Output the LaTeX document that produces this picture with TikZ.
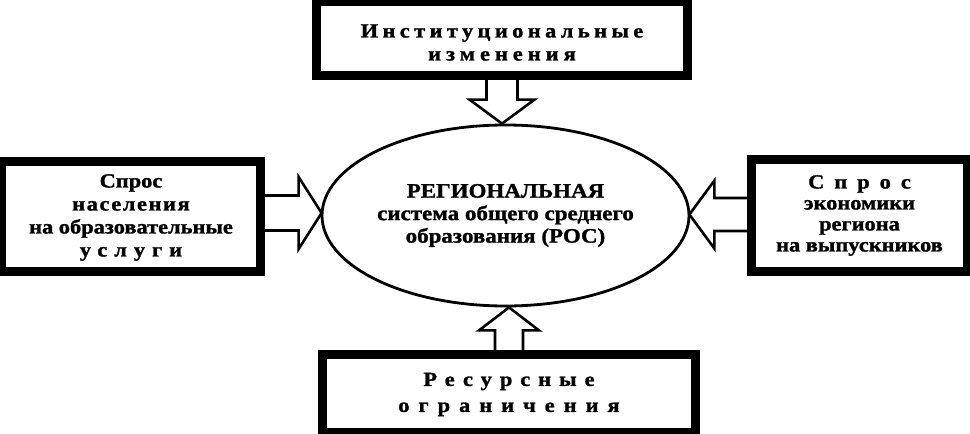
\documentclass[tikz,border=0pt]{standalone}
\usepackage{fontspec}
\setmainfont{Liberation Serif}[BoldFont={Liberation Serif Bold}]
\newfontfamily\bserif{Liberation Serif Bold}[FakeStretch=1.12,FakeBold=1.3]
\usetikzlibrary{shapes.geometric,calc}
\newcommand\lsp[2]{{\addfontfeatures{LetterSpace=#1}#2\hspace{-0.#1em}}}
\tikzset{
  box/.style={draw, line width=6pt, fill=white, inner sep=0pt},
  boxtext/.style={inner sep=0pt, align=center, font=\bserif\fontsize{20}{#1}\selectfont},
  boxtext/.default=22.5,
  blockarrow/.style={draw, line width=2.6pt, fill=white, line join=miter},
  oval/.style={draw, ellipse, line width=2.8pt, inner sep=0pt, align=center,
    font=\bserif\fontsize{20.5}{22.5}\selectfont},
}
\begin{document}
\begin{tikzpicture}[x=1pt,y=-1pt]
\useasboundingbox (0,0) rectangle (970,434);
% nodes
\node[oval, minimum width=367pt, minimum height=181pt] (el) at (505.5,215.5)
  {РЕГИОНАЛЬНАЯ\\система общего среднего\\образования (РОС)};
\node[box, minimum width=368pt, minimum height=71pt] (top) at (502,38.5) {};
\node[box, minimum width=256pt, minimum height=107pt] (lft) at (131,216.5) {};
\node[box, minimum width=213pt, minimum height=109pt] (rgt) at (859.5,215.5) {};
\node[box, minimum width=370pt, minimum height=75pt] (bot) at (509,393.5) {};
\node[boxtext=23] (toptext) at ($(top.center)+(0,4)$)
  {\lsp{22}{Институциональные}\\\lsp{25}{изменения}};
\node[boxtext=23] (lfttext) at ($(lft.center)+(0,1)$)
  {Спрос\\\lsp{08}{населения}\\на образовательные\\\lsp{35}{услуги}};
\node[boxtext=21] (rgttext) at ($(rgt.center)+(0,0)$)
  {\lsp{50}{Спрос}\\экономики\\региона\\на выпускников};
\node[boxtext=26] (bottext) at ($(bot.center)+(0,1)$)
  {\lsp{40}{Ресурсные}\\\lsp{45}{ограничения}};
% top arrow
\coordinate (tt) at (el.north -| top.south);
\draw[blockarrow] ($(top.south)+(-15.5,0)$) -- ($(tt)+(-15.5,-24)$) -- ($(tt)+(-32.5,-24)$)
  -- (tt) -- ($(tt)+(32.5,-24)$) -- ($(tt)+(15.5,-24)$) -- ($(top.south)+(15.5,0)$);
% bottom arrow
\coordinate (bt) at (el.south -| bot.north);
\draw[blockarrow] ($(bot.north)+(-14,0)$) -- ($(bt)+(-14,23)$) -- ($(bt)+(-30,23)$)
  -- (bt) -- ($(bt)+(30,23)$) -- ($(bt)+(14,23)$) -- ($(bot.north)+(14,0)$);
% left arrow
\coordinate (lt) at ($(el.west)+(1,-2.5)$);
\coordinate (ls) at (lft.east |- lt);
\draw[blockarrow] ($(ls)+(0,-17.5)$) -- ($(lt)+(-23,-17.5)$) -- ($(lt)+(-23,-36)$)
  -- (lt) -- ($(lt)+(-23,36)$) -- ($(lt)+(-23,17.5)$) -- ($(ls)+(0,17.5)$);
% right arrow
\coordinate (rt) at ($(el.east)+(-1,-1)$);
\coordinate (rs) at (rgt.west |- rt);
\draw[blockarrow] ($(rs)+(0,-16.5)$) -- ($(rt)+(25,-16.5)$) -- ($(rt)+(25,-34)$)
  -- (rt) -- ($(rt)+(25,34)$) -- ($(rt)+(25,16.5)$) -- ($(rs)+(0,16.5)$);
% redraw box borders over arrow ends
\foreach \n in {top,lft,rgt,bot}{\draw[line width=6pt] (\n.north west) rectangle (\n.south east);}
\end{tikzpicture}
\end{document}
